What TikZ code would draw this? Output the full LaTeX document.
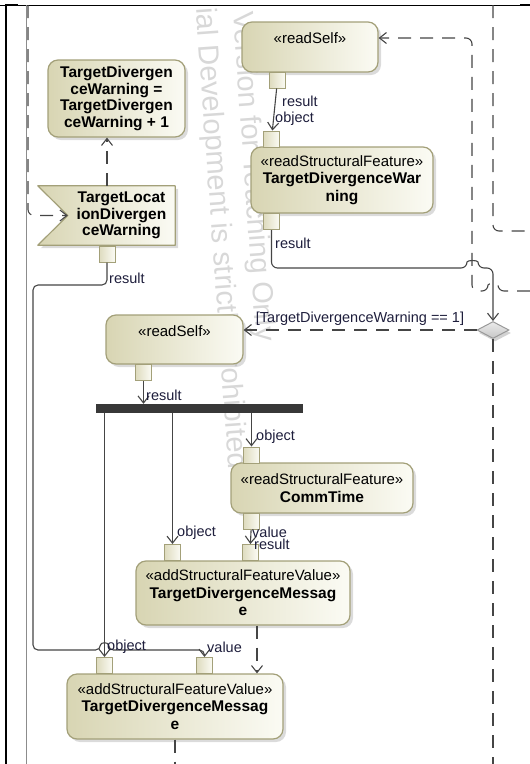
\documentclass[tikz,border=0pt]{standalone}
\usepackage{fontspec}
\setmainfont{Liberation Sans}
\usepackage{xcolor}
\usepackage{tikz}
\usetikzlibrary{shapes,arrows.meta,positioning,calc,shadows}
\definecolor{actL}{HTML}{D8D5B3}
\definecolor{actR}{HTML}{FBFBF4}
\definecolor{actB}{HTML}{A3A079}
\definecolor{flowC}{HTML}{454545}
\definecolor{lblC}{HTML}{1E1E3C}
\definecolor{wmC}{HTML}{D8D8D8}
\pgfdeclarelayer{bg}
\pgfsetlayers{bg,main}
\newcommand{\boldtxt}[1]{{\fontsize{15.5}{17.5}\selectfont\bfseries #1}}

\begin{document}
\begin{tikzpicture}[x=1pt,y=-1pt,
  >={Straight Barb[length=7pt,width=11pt]},
  act/.style={rectangle,rounded corners=10pt,draw=actB,line width=1.2pt,left color=actL,right color=actR,
    drop shadow={shadow xshift=3pt,shadow yshift=-3pt,fill=black!28},align=center,inner sep=2pt,
    font=\fontsize{15}{17.5}\selectfont},
  flag/.style={draw=actB,line width=1.2pt,line join=round,left color=actL,right color=actR,
    drop shadow={shadow xshift=3pt,shadow yshift=-3pt,fill=black!28}},
  pin/.style={rectangle,draw=actB,line width=1pt,left color=actL!85,right color=actR,
    minimum width=16pt,minimum height=16pt,inner sep=0pt},
  bar/.style={rectangle,fill=black!78,minimum width=207pt,minimum height=9pt,inner sep=0pt},
  dec/.style={diamond,draw=black!40,line width=1pt,top color=black!8,bottom color=black!22,
    minimum width=32pt,minimum height=17pt,inner sep=0pt,
    drop shadow={shadow xshift=2pt,shadow yshift=-3pt,fill=black!35}},
  line/.style={draw=flowC,line width=1.1pt},
  flow/.style={line,->},
  ctrl/.style={line,dash pattern=on 13pt off 9pt},
  lbl/.style={font=\fontsize{14.5}{16}\selectfont,text=lblC,inner sep=1pt,anchor=west},
  wm/.style={font=\fontsize{29}{30}\selectfont,text=wmC,rotate=-85.9,anchor=base west,inner sep=0pt}
]
  \useasboundingbox (0,0) rectangle (530,764);

  % frame and partition
  \draw[line width=0.8pt] (0,5) -- (530,5);
  \draw[line width=2pt] (5.5,5) -- (5.5,764);
  \draw[line width=2pt] (5,5) -- (18,5);
  \draw[line width=2pt] (520,5) -- (530,5);
  \draw[black!45,line width=1pt] (26,5) -- (26,764);

  % actions
  \node[act,font=\fontsize{15.5}{16.5}\selectfont\bfseries,minimum width=137pt,minimum height=77pt] (incr) at (116.5,98.5)
    {TargetDivergen\\ceWarning =\\TargetDivergen\\ceWarning + 1};
  \node[font=\fontsize{15.5}{16.5}\selectfont\bfseries,align=center,minimum width=107pt,minimum height=59pt,inner sep=0pt] (tle) at (121.5,215.5)
    {TargetLocat\\ionDivergen\\ceWarning};
  \node[act,minimum width=136pt,minimum height=50pt] (rs1) at (310,47) {«readSelf»\\\mbox{}};
  \node[act,minimum width=182pt,minimum height=66pt] (rsf1) at (342,180)
    {«readStructuralFeature»\\\boldtxt{TargetDivergenceWar}\\\boldtxt{ning}};
  \node[act,minimum width=137pt,minimum height=49pt] (rs2) at (174.5,339.5) {«readSelf»\\\mbox{}};
  \node[bar] (fork) at (199.5,408.5) {};
  \node[act,minimum width=182pt,minimum height=50pt] (ct) at (322,488)
    {«readStructuralFeature»\\\boldtxt{CommTime}};
  \node[act,minimum width=214pt,minimum height=64pt] (a1) at (243,593)
    {«addStructuralFeatureValue»\\\boldtxt{TargetDivergenceMessag}\\\boldtxt{e}};
  \node[act,minimum width=216pt,minimum height=65pt] (a2) at (175,706.5)
    {«addStructuralFeatureValue»\\\boldtxt{TargetDivergenceMessag}\\\boldtxt{e}};
  \node[dec] (dec) at (493,330) {};

  % pins
  \node[pin] (p_tleo) at (107,254) {};
  \node[pin] (p_rs1o) at (277.5,80) {};
  \node[pin] (p_rsf1i) at (271.5,139) {};
  \node[pin] (p_rsf1o) at (271.5,221.5) {};
  \node[pin] (p_rs2o) at (143.5,372.5) {};
  \node[pin] (p_cti) at (251.5,455) {};
  \node[pin] (p_cto) at (251.5,521.5) {};
  \node[pin] (p_a1o) at (172.5,552.5) {};
  \node[pin] (p_a1v) at (250,552.5) {};
  \node[pin] (p_a2o) at (104.5,665.5) {};
  \node[pin] (p_a2v) at (204.5,665.5) {};

  \begin{pgfonlayer}{bg}
    \node[wm] (wm1) at (233,12) {Version for Teaching Only};
    \node[wm] (wm2) at (196,8) {ial Development is strictly prohibited};
    \path[flag] ([xshift=-30pt]tle.north west) -- (tle.north east) -- (tle.south east)
      -- ([xshift=-30pt]tle.south west) -- (tle.west) -- cycle;
  \end{pgfonlayer}

  % object flows
  \draw[flow] (p_rs1o) -- (p_rsf1i);
  \draw[flow,rounded corners=6pt] (p_rsf1o.south) |- (467,268) .. controls (467,260) and (478,260) .. (478,268) -| (dec.north);
  \draw[flow] (p_rs2o) -- (p_rs2o |- fork.north);
  \draw[flow] (p_cti |- fork.south) -- (p_cti);
  \draw[flow] (p_a1o |- fork.south) -- (p_a1o);
  \draw[flow] (p_a2o |- fork.south) -- (p_a2o);
  \draw[flow] (p_cto) -- (p_a1v);
  \draw[flow,rounded corners=5pt] (p_tleo.south) |- (33,285) -- (33,650) -- (100.5,650)
    .. controls (100.5,642) and (108.5,642) .. (108.5,650) -| (p_a2v.north);

  % control flows
  \draw[ctrl,->,rounded corners=6pt] (28,5) |- (tle.west);
  \draw[ctrl,->] (p_tleo |- tle.north) -- (p_tleo |- incr.south);
  \draw[ctrl,->,rounded corners=6pt] (530,291) -- (498,291) .. controls (498,283) and (488,283) .. (488,291)
    -| (472,38) -- ([yshift=9pt]rs1.east);
  \draw[ctrl,rounded corners=6pt] (493,5) |- (530,231);
  \draw[ctrl,->] (dec.west) -- (dec.west -| rs2.east);
  \draw[ctrl] (dec.south) -- (493,764);
  \draw[ctrl,->] ([xshift=14pt]a1.south) -- ([xshift=14pt]a1.south |- a2.north);
  \draw[ctrl] (a2.south) -- (a2.south |- 0,764);

  % labels
  \node[lbl] (l_tleo) at (108,278) {result};
  \node[lbl] (l_rs1o) at (281,101) {result};
  \node[lbl] (l_rsf1i) at (274,119) {object};
  \node[lbl] (l_rsf1o) at (274,243) {result};
  \node[lbl] (l_rs2o) at (145,395) {result};
  \node[lbl] (l_cti) at (255,437) {object};
  \node[lbl] (l_a1o) at (176,533) {object};
  \node[lbl] (l_cto) at (251,532) {value};
  \node[lbl] (l_a1v) at (253,544) {result};
  \node[lbl] (l_a2o) at (106,647) {object};
  \node[lbl] (l_a2v) at (206,647) {value};
  \node[lbl,anchor=center] (guard) at (360,319) {[TargetDivergenceWarning == 1]};
\end{tikzpicture}
\end{document}
